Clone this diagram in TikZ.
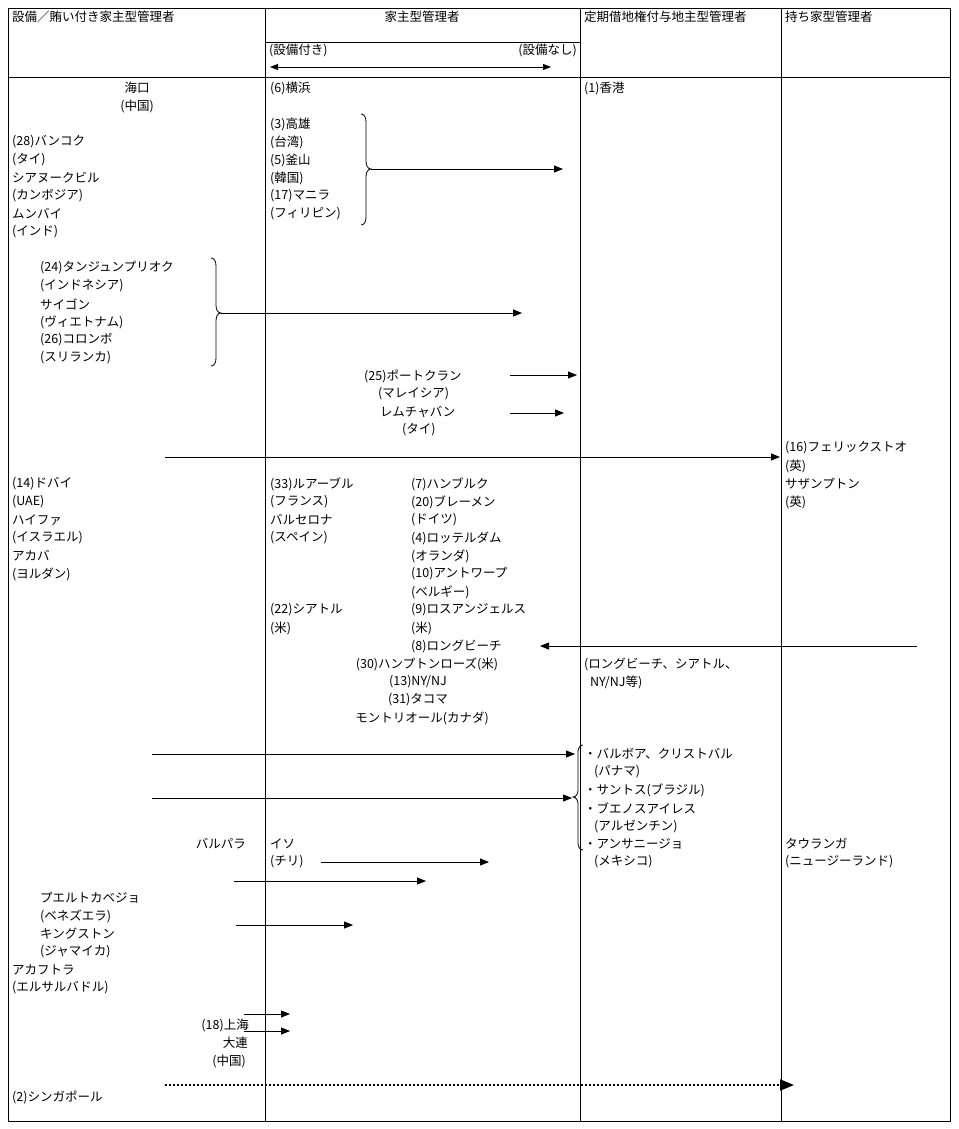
\documentclass[tikz,border=0pt]{standalone}
\usepackage{fontspec}
\setmainfont{Noto Sans CJK JP}
\usetikzlibrary{arrows.meta}
\newcommand\lb[4]{\node[t] (#1) at (#2,#3) {#4};}
\newcommand\rbr[4]{% x, y1, y2, ymid : right brace
\draw[ln] (#1,#2) to[out=0,in=90] (#1+5,#2+8) -- (#1+5,#4-8) to[out=-90,in=180] (#1+10,#4) to[out=180,in=90] (#1+5,#4+8) -- (#1+5,#3-8) to[out=-90,in=0] (#1,#3);}
\begin{document}
\begin{tikzpicture}[x=1pt,y=-1pt,
 t/.style={anchor=west,inner sep=0pt,font=\fontsize{12.5}{15}\selectfont},
 ln/.style={line width=0.8pt},
 ar/.style={ln,-{Triangle[length=9pt,width=7pt]}}]
\useasboundingbox (0,0) rectangle (958,1129);
\draw[ln] (8,8) rectangle (950,1121);
\foreach \x in {265,580,781} \draw[ln] (\x,8) -- (\x,1121);
\draw[ln] (8,77) -- (950,77);
\draw[ln] (265,42) -- (580,42);
% header
\lb{h1}{12}{17}{設備／賄い付き家主型管理者}
\node[t,anchor=center] (h2) at (422,17) {家主型管理者};
\lb{h3}{584}{17}{定期借地権付与地主型管理者}
\lb{h4}{785}{17}{持ち家型管理者}
\lb{s1}{269}{51}{(設備付き)}
\node[t,anchor=east] (s2) at (577,51) {(設備なし)};
\coordinate (da) at (270,67); \coordinate (db) at (551,67);
\draw[ln,{Triangle[length=8pt,width=6pt]}-{Triangle[length=8pt,width=6pt]}] (da) -- (db);
% col1 top
\node[t,anchor=center] (a1) at (137,88) {海口};
\node[t,anchor=center] (a2) at (137,106) {(中国)};
\lb{b1}{12}{142}{(28)バンコク}\lb{b2}{12}{160}{(タイ)}\lb{b3}{12}{178}{シアヌークビル}
\lb{b4}{12}{196}{(カンボジア)}\lb{b5}{12}{214}{ムンバイ}\lb{b6}{12}{232}{(インド)}
\lb{c1}{40}{268}{(24)タンジュンプリオク}\lb{c2}{40}{286}{(インドネシア)}\lb{c3}{40}{304}{サイゴン}
\lb{c4}{40}{322}{(ヴィエトナム)}\lb{c5}{40}{340}{(26)コロンボ}\lb{c6}{40}{358}{(スリランカ)}
\rbr{211}{258}{366}{313}
\coordinate (cb) at (221,313); \coordinate (ce) at (522,313);
\draw[ar] (cb) -- (ce);
% col2 top
\lb{d0}{270}{88}{(6)横浜}
\lb{d1}{270}{124}{(3)高雄}\lb{d2}{270}{142}{(台湾)}\lb{d3}{270}{160}{(5)釜山}
\lb{d4}{270}{178}{(韓国)}\lb{d5}{270}{196}{(17)マニラ}\lb{d6}{270}{214}{(フィリピン)}
\rbr{361}{114}{225}{169}
\coordinate (db1) at (371,169); \coordinate (de1) at (563,169);
\draw[ar] (db1) -- (de1);
\lb{e0}{584}{88}{(1)香港}
\lb{f1}{364}{376}{(25)ポートクラン}\lb{f2}{378}{394}{(マレイシア)}
\lb{f3}{380}{412}{レムチャバン}\lb{f4}{402}{430}{(タイ)}
\coordinate (fa) at (510,375); \coordinate (fb) at (577,375);
\coordinate (fc) at (510,413); \coordinate (fd) at (564,413);
\draw[ar] (fa) -- (fb); \draw[ar] (fc) -- (fd);
\coordinate (ga) at (165,457); \coordinate (gb) at (780,457);
\draw[ar] (ga) -- (gb);
\lb{g1}{785}{448}{(16)フェリックストオ}\lb{g2}{785}{466}{(英)}\lb{g3}{785}{484}{サザンプトン}\lb{g4}{785}{502}{(英)}
\lb{i1}{12}{484}{(14)ドバイ}\lb{i2}{12}{502}{(UAE)}\lb{i3}{12}{520}{ハイファ}
\lb{i4}{12}{538}{(イスラエル)}\lb{i5}{12}{556}{アカバ}\lb{i6}{12}{574}{(ヨルダン)}
\lb{j1}{270}{484}{(33)ルアーブル}\lb{j2}{270}{502}{(フランス)}\lb{j3}{270}{520}{バルセロナ}\lb{j4}{270}{538}{(スペイン)}
\lb{j5}{270}{610}{(22)シアトル}\lb{j6}{270}{628}{(米)}
\lb{k1}{411}{484}{(7)ハンブルク}\lb{k2}{411}{502}{(20)ブレーメン}\lb{k3}{411}{520}{(ドイツ)}
\lb{k4}{411}{538}{(4)ロッテルダム}\lb{k5}{411}{556}{(オランダ)}\lb{k6}{411}{574}{(10)アントワープ}
\lb{k7}{411}{592}{(ベルギー)}\lb{k8}{411}{610}{(9)ロスアンジェルス}\lb{k9}{411}{628}{(米)}
\lb{k10}{411}{646}{(8)ロングビーチ}
\coordinate (la) at (917,646); \coordinate (lb) at (540,646);
\draw[ar] (la) -- (lb);
\node[t,anchor=center] (m1) at (427,664) {(30)ハンプトンローズ(米)};
\node[t,anchor=center] (m2) at (418,682) {(13)NY/NJ};
\node[t,anchor=center] (m3) at (418,700) {(31)タコマ};
\node[t,anchor=center] (m4) at (422,718) {モントリオール(カナダ)};
\lb{n1}{584}{664}{(ロングビーチ、シアトル、}\lb{n2}{590}{682}{NY/NJ等)}
% south america
\draw[ln] (583,745) to[out=180,in=90] (578,752) -- (578,790) to[out=-90,in=0] (573,797) to[out=0,in=90] (578,804) -- (578,843) to[out=-90,in=180] (583,850);
\coordinate (oa) at (152,754); \coordinate (ob) at (575,754);
\coordinate (oc) at (152,798); \coordinate (od) at (572,798);
\draw[ar] (oa) -- (ob); \draw[ar] (oc) -- (od);
\lb{p1}{584}{754}{・バルボア、クリストバル}\lb{p2}{594}{772}{(パナマ)}\lb{p3}{584}{790}{・サントス(ブラジル)}
\lb{p4}{584}{808}{・ブエノスアイレス}\lb{p5}{594}{826}{(アルゼンチン)}\lb{p6}{584}{844}{・アンサニージョ}\lb{p7}{594}{862}{(メキシコ)}
\lb{q1}{785}{844}{タウランガ}\lb{q2}{785}{862}{(ニュージーランド)}
\node[t,anchor=east] (r1) at (246,844) {バルパラ};
\lb{r2}{270}{844}{イソ}\lb{r3}{270}{862}{(チリ)}
\coordinate (ra) at (321,862); \coordinate (rb) at (489,862);
\draw[ar] (ra) -- (rb);
\coordinate (sa) at (234,881); \coordinate (sb) at (426,881);
\draw[ar] (sa) -- (sb);
\lb{u1}{40}{898}{プエルトカベジョ}\lb{u2}{40}{916}{(ベネズエラ)}\lb{u3}{40}{934}{キングストン}\lb{u4}{40}{952}{(ジャマイカ)}
\coordinate (ua) at (236,925); \coordinate (ub) at (353,925);
\draw[ar] (ua) -- (ub);
\lb{v1}{12}{970}{アカフトラ}\lb{v2}{12}{988}{(エルサルバドル)}
\coordinate (wa) at (244,1014); \coordinate (wb) at (290,1014);
\coordinate (wc) at (244,1031); \coordinate (wd) at (290,1031);
\draw[ar] (wa) -- (wb); \draw[ar] (wc) -- (wd);
\node[t,anchor=east] (w1) at (249,1025) {(18)上海};
\node[t,anchor=east] (w2) at (248,1043) {大連};
\node[t,anchor=east] (w3) at (246,1061) {(中国)};
\coordinate (xa) at (165,1085); \coordinate (xb) at (794,1085);
\draw[line width=2pt,dotted,-{Triangle[length=14pt,width=11pt]}] (xa) -- (xb);
\lb{x1}{12}{1097}{(2)シンガポール}
\end{tikzpicture}
\end{document}
